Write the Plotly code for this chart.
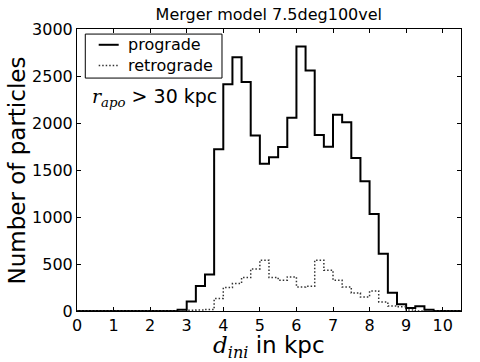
import numpy as np
import plotly.graph_objects as go

# bin edges 0..10.5 step 0.25
bin_width = 0.25
n_bins = 42
edges = [i * bin_width for i in range(n_bins + 1)]

# prograde counts per bin starting at 2.75
prograde_start = 2.75
prograde_vals = [12, 100, 265, 388, 1720, 2413, 2700, 2435, 1866, 1567, 1635, 1745,
                 2057, 2814, 2558, 1873, 1748, 2089, 2008, 1628, 1379, 1031, 608,
                 194, 71, 32, 50, 12]
# retrograde counts per bin starting at 3.0
retro_start = 3.0
retro_vals = [8, 10, 15, 132, 249, 292, 356, 448, 540, 356, 327, 363, 256, 263,
              540, 434, 327, 256, 192, 149, 213, 96, 53, 45, 10]
series_names = ["prograde", "retrograde"]

def full_counts(start, vals):
    c = [0] * n_bins
    i0 = int(round(start / bin_width))
    for k, v in enumerate(vals):
        c[i0 + k] = v
    return c

pro = full_counts(prograde_start, prograde_vals)
ret = full_counts(retro_start, retro_vals)

solid = dict(color="black", width=2)
dotted = dict(color="#333333", width=1.5, dash="1.5px,2px")

fig = go.Figure()
fig.add_trace(go.Scatter(x=edges, y=pro + [pro[-1]], mode="lines", line_shape="hv",
                         line=solid, name=series_names[0]))
fig.add_trace(go.Scatter(x=edges, y=ret + [ret[-1]], mode="lines", line_shape="hv",
                         line=dotted, name=series_names[1]))

fig.update_layout(
    width=480, height=362,
    margin=dict(l=77, r=19, t=29, b=51, autoexpand=False),
    paper_bgcolor="white", plot_bgcolor="white",
    font=dict(family="DejaVu Sans", color="black", size=15),
    title=dict(text="Merger model 7.5deg100vel", x=0.56, xanchor="center",
               y=0.96, yanchor="middle", font=dict(size=16)),
    showlegend=False,
    xaxis=dict(range=[0, 10.5], tickvals=list(range(0, 11)), ticks="inside",
               ticklen=4, tickcolor="black", showline=True, linecolor="black",
               linewidth=1, mirror="allticks", showgrid=False, zeroline=False,
               tickfont=dict(size=16), automargin=False),
    yaxis=dict(range=[0, 3000], tickvals=list(range(0, 3001, 500)), ticks="inside",
               ticklen=4, tickcolor="black", showline=True, linecolor="black",
               linewidth=1, mirror="allticks", showgrid=False, zeroline=False,
               tickfont=dict(size=16), automargin=False),
)

# legend box (drawn manually for matplotlib-like compact spacing)
fig.add_shape(type="rect", xref="paper", yref="paper", x0=0.0216, x1=0.3776,
              y0=0.826, y1=0.982, line=dict(color="black", width=1),
              fillcolor="white", layer="above")
for yy, ln, name in [(0.944, solid, series_names[0]), (0.871, dotted, series_names[1])]:
    fig.add_shape(type="line", xref="paper", yref="paper", x0=0.0565, x1=0.1086,
                  y0=yy, y1=yy, line=ln, layer="above")
    fig.add_annotation(xref="paper", yref="paper", x=0.1276, y=yy, xanchor="left",
                       yanchor="middle", showarrow=False, text=name,
                       font=dict(size=16))

fig.add_annotation(xref="paper", yref="paper", x=0.035, y=0.757, xanchor="left",
                   yanchor="middle", showarrow=False,
                   text="<span style='font-family:DejaVu Serif'><i>r</i><sub><i>apo</i></sub></span> &gt; 30 kpc",
                   font=dict(size=19))
fig.add_annotation(xref="paper", yref="paper", x=0.5, y=-0.128, xanchor="center",
                   yanchor="middle", showarrow=False,
                   text="<span style='font-family:DejaVu Serif'><i>d</i><sub><i>ini</i></sub></span> in kpc",
                   font=dict(size=23))
fig.add_annotation(xref="paper", yref="paper", x=-0.155, y=0.5, xanchor="center",
                   yanchor="middle", showarrow=False, textangle=-90,
                   text="Number of particles", font=dict(size=23))
fig.write_html("out.html", post_script="document.body.style.margin='0';",
               config={"displayModeBar": False})
